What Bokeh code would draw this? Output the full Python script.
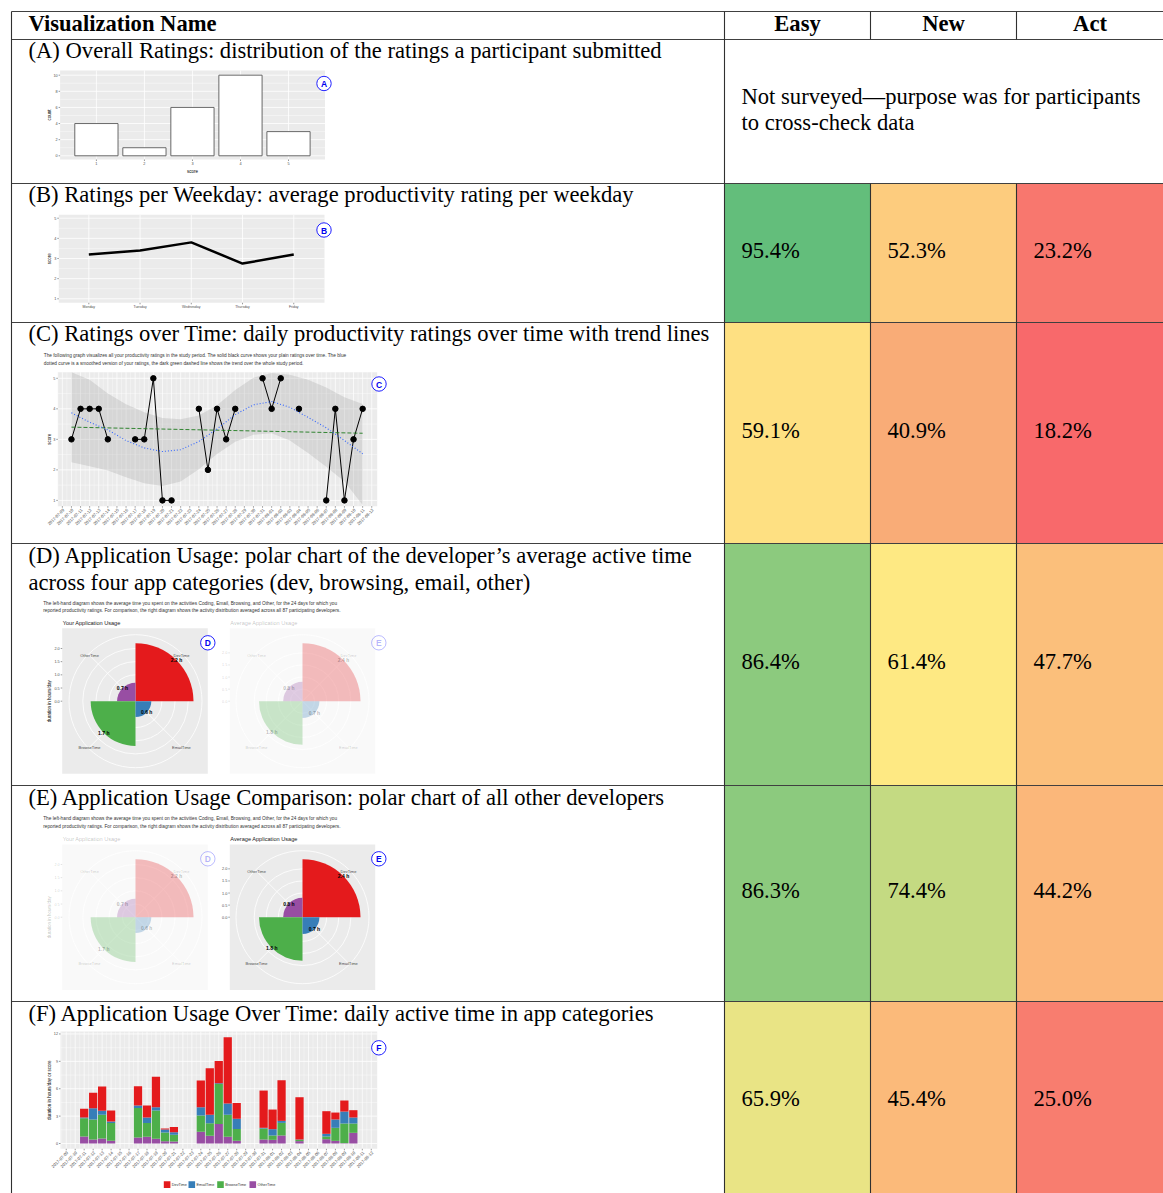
import math
from datetime import date
import numpy as np
from bokeh.plotting import figure
from bokeh.models import Range1d
from bokeh.embed import file_html
from bokeh.resources import INLINE
from bokeh.core.properties import value

# ---------------------------------------------------------------- data
col_names = ["Easy", "New", "Act"]
header_title = "Visualization Name"
row_titles = [
    ["(A) Overall Ratings: distribution of the ratings a participant submitted"],
    ["(B) Ratings per Weekday: average productivity rating per weekday"],
    ["(C) Ratings over Time: daily productivity ratings over time with trend lines"],
    ["(D) Application Usage: polar chart of the developer\u2019s average active time",
     "across four app categories (dev, browsing, email, other)"],
    ["(E) Application Usage Comparison: polar chart of all other developers"],
    ["(F) Application Usage Over Time: daily active time in app categories"],
]
not_surveyed = ["Not surveyed\u2014purpose was for participants", "to cross-check data"]

easy_pct = [95.4, 59.1, 86.4, 86.3, 65.9]
new_pct = [52.3, 40.9, 61.4, 74.4, 45.4]
act_pct = [23.2, 18.2, 47.7, 44.2, 25.0]
easy_colors = ["#63BE7B", "#FEE082", "#8CCA7E", "#8CCA7E", "#E9E485"]
new_colors = ["#FDCC7E", "#F9AC77", "#FEE983", "#C4DA82", "#FBBA7A"]
act_colors = ["#F8776E", "#F8696B", "#FBBF7B", "#FBB77A", "#F87D6F"]

A_scores = [1, 2, 3, 4, 5]
A_counts = [4, 1, 6, 10, 3]
A_yticks = [0, 2, 4, 6, 8, 10]

B_weekdays = ["Monday", "Tuesday", "Wednesday", "Thursday", "Friday"]
B_avg = [3.2, 3.4, 3.8, 2.75, 3.2]
B_yticks = [1, 2, 3, 4, 5]

date_labels = [
    "2017-07-09", "2017-07-10", "2017-07-11", "2017-07-12", "2017-07-13", "2017-07-14",
    "2017-07-15", "2017-07-16", "2017-07-17", "2017-07-18", "2017-07-19", "2017-07-20",
    "2017-07-21", "2017-07-22", "2017-07-23", "2017-07-24", "2017-07-25", "2017-07-26",
    "2017-07-27", "2017-07-28", "2017-07-29", "2017-07-30", "2017-07-31", "2017-08-01",
    "2017-08-02", "2017-08-03", "2017-08-04", "2017-08-05", "2017-08-06", "2017-08-07",
    "2017-08-08", "2017-08-09", "2017-08-10", "2017-08-11", "2017-08-12",
]
C_description = [
    "The following graph visualizes all your productivity ratings in the study period. The solid black curve shows your plain ratings over time. The blue",
    "dotted curve is a smoothed version of your ratings, the dark green dashed line shows the trend over the whole study period.",
]
C_dates = ["2017-07-10", "2017-07-11", "2017-07-12", "2017-07-13", "2017-07-14",
           "2017-07-17", "2017-07-18", "2017-07-19", "2017-07-20", "2017-07-21",
           "2017-07-24", "2017-07-25", "2017-07-26", "2017-07-27", "2017-07-28",
           "2017-07-31", "2017-08-01", "2017-08-02", "2017-08-04",
           "2017-08-07", "2017-08-08", "2017-08-09", "2017-08-10", "2017-08-11"]
C_ratings = [3, 4, 4, 4, 3, 3, 3, 5, 1, 1, 4, 2, 4, 3, 4, 5, 4, 5, 4, 1, 4, 1, 3, 4]
C_smooth_dates = ["2017-07-10", "2017-07-12", "2017-07-14", "2017-07-16", "2017-07-18",
                  "2017-07-20", "2017-07-22", "2017-07-24", "2017-07-26", "2017-07-28",
                  "2017-07-30", "2017-08-01", "2017-08-03", "2017-08-05", "2017-08-07",
                  "2017-08-09", "2017-08-11"]
C_smooth = [3.87, 3.56, 3.31, 2.96, 2.72, 2.60, 2.66, 2.93, 3.34, 3.81, 4.13, 4.24, 4.05, 3.72, 3.38, 2.96, 2.53]
C_smooth_hi = [5.45, 4.95, 4.50, 4.15, 3.89, 3.70, 3.66, 3.78, 4.12, 4.62, 5.02, 5.17, 5.12, 4.95, 4.70, 4.38, 4.16]
C_smooth_lo = [2.25, 2.12, 1.98, 1.76, 1.56, 1.47, 1.62, 2.02, 2.52, 2.92, 3.15, 3.20, 2.96, 2.55, 2.10, 1.62, 0.85]
C_trend_dates = ["2017-07-10", "2017-08-11"]
C_trend = [3.4, 3.2]

app_categories = ["DevTime", "OtherTime", "BrowseTime", "EmailTime"]
app_colors = ["#E41A1C", "#984EA3", "#4DAF4A", "#377EB8"]
your_hours = [2.2, 0.7, 1.7, 0.6]
avg_hours = [2.4, 0.8, 1.8, 0.7]
polar_rticks = [0.0, 0.5, 1.0, 1.5, 2.0]
polar_titles = ["Your Application Usage", "Average Application Usage"]
D_description = [
    "The left-hand diagram shows the average time you spent on the activities Coding, Email, Browsing, and Other, for the 24 days for which you",
    "reported productivity ratings. For comparison, the right diagram shows the activity distribution averaged across all 87 participating developers.",
]

F_dates = ["2017-07-11", "2017-07-12", "2017-07-13", "2017-07-14",
           "2017-07-17", "2017-07-18", "2017-07-19", "2017-07-20", "2017-07-21",
           "2017-07-24", "2017-07-25", "2017-07-26", "2017-07-27", "2017-07-28",
           "2017-07-31", "2017-08-01", "2017-08-02", "2017-08-04",
           "2017-08-07", "2017-08-08", "2017-08-09", "2017-08-10"]
F_other = [0.77, 0.44, 0.55, 0.29, 0.66, 0.73, 0.51, 0.26, 0.22, 1.28, 0.84, 2.15, 0.73, 0.29, 0.44, 0.40, 0.88, 0.26, 0.47, 0.29, 0.04, 1.17]
F_browse = [2.00, 2.19, 2.59, 1.97, 3.24, 1.53, 3.10, 0.94, 0.73, 1.79, 1.39, 4.38, 2.41, 1.31, 1.20, 0.48, 1.38, 0.14, 0.30, 1.43, 2.15, 1.02]
F_email = [0.08, 1.24, 0.44, 0.15, 0.26, 0.59, 0.37, 0.33, 0.29, 0.91, 0.91, 0.07, 1.24, 1.10, 0.08, 0.69, 0.22, 0.04, 0.29, 0.91, 1.31, 0.66]
F_dev = [0.95, 1.68, 2.66, 1.20, 2.12, 1.31, 3.32, 0.11, 0.58, 2.92, 5.11, 2.45, 7.26, 1.75, 4.08, 2.15, 4.45, 4.63, 2.48, 0.76, 1.21, 0.80]
F_yticks = [0, 3, 6, 9, 12]
F_legend = ["DevTime", "EmailTime", "BrowseTime", "OtherTime"]
F_legend_colors = ["#E41A1C", "#377EB8", "#4DAF4A", "#984EA3"]

# ---------------------------------------------------------------- canvas
SERIF = value("Liberation Serif")
SANS = value("Liberation Sans")
TICK_C = "#4D4D4D"
PANEL_C = "#EBEBEB"
BIG = 22.6

p = figure(width=1163, height=1193, x_range=Range1d(0, 1163), y_range=Range1d(1193, 0),
           output_backend="svg", toolbar_location=None, min_border=0)
p.xaxis.visible = False
p.yaxis.visible = False
p.xgrid.visible = False
p.ygrid.visible = False
p.outline_line_color = None
p.background_fill_color = "white"
p.border_fill_color = "white"


def txt(x, y, s, size, font=SANS, color="black", align="left", baseline="middle",
        angle=0.0, style="normal", alpha=1.0):
    x = list(np.atleast_1d(np.asarray(x, float)))
    y = list(np.atleast_1d(np.asarray(y, float)))
    s = [s] if isinstance(s, str) else list(s)
    n = len(s)
    if len(x) == 1:
        x = x * n
    if len(y) == 1:
        y = y * n
    p.text(x=x, y=y, text=s, text_font=font, text_font_size=f"{size}px",
           text_color=color, text_align=align, text_baseline=baseline, angle=angle,
           text_font_style=style, text_alpha=alpha)


def day_index(s):
    return (date.fromisoformat(s) - date(2017, 7, 9)).days


class Panel:
    def __init__(self, px0, px1, py0, py1, xlim, ylim):
        self.px0, self.px1, self.py0, self.py1 = px0, px1, py0, py1
        self.xlim, self.ylim = xlim, ylim

    def X(self, v):
        v = np.asarray(v, float)
        return self.px0 + (v - self.xlim[0]) / (self.xlim[1] - self.xlim[0]) * (self.px1 - self.px0)

    def Y(self, v):
        v = np.asarray(v, float)
        return self.py1 - (v - self.ylim[0]) / (self.ylim[1] - self.ylim[0]) * (self.py1 - self.py0)

    def bg(self, color=PANEL_C, alpha=1.0):
        p.quad(left=[self.px0], right=[self.px1], top=[self.py0], bottom=[self.py1],
               fill_color=color, fill_alpha=alpha, line_color=None)

    def hgrid(self, vals, width):
        ys = self.Y(vals)
        p.segment(x0=[self.px0] * len(ys), x1=[self.px1] * len(ys), y0=ys, y1=ys,
                  line_color="white", line_width=width)

    def vgrid(self, vals, width):
        xs = self.X(vals)
        p.segment(x0=xs, x1=xs, y0=[self.py0] * len(xs), y1=[self.py1] * len(xs),
                  line_color="white", line_width=width)

    def yticks(self, vals, labels, size=3.8):
        ys = self.Y(vals)
        p.segment(x0=[self.px0 - 1.5] * len(ys), x1=[self.px0] * len(ys), y0=ys, y1=ys,
                  line_color="#333333", line_width=0.5)
        txt(self.px0 - 2.5, ys, labels, size, color=TICK_C, align="right")

    def xticks(self, vals, labels, size=3.8, rotate=False):
        xs = self.X(vals)
        p.segment(x0=xs, x1=xs, y0=[self.py1] * len(xs), y1=[self.py1 + 1.5] * len(xs),
                  line_color="#333333", line_width=0.5)
        if rotate:
            txt(xs + 1.2, self.py1 + 3.2, labels, size, color=TICK_C, align="right",
                baseline="middle", angle=math.pi / 4)
        else:
            txt(xs, self.py1 + 2.5, labels, size, color=TICK_C, align="center", baseline="top")


def badge(x, y, letter, alpha=1.0):
    p.circle(x=[x], y=[y], radius=7.2, fill_color="white", fill_alpha=alpha,
             line_color="#2020FF", line_alpha=alpha, line_width=1.0)
    txt(x, y + 0.5, letter, 8.5, color="#0000EE", align="center", style="bold", alpha=alpha)


# ---------------------------------------------------------------- table
COL_X = [724, 870, 1016, 1163]
ROW_Y = [11, 39, 183, 322, 543, 785, 1001, 1193]
LEFT = 11

for r in range(5):
    top, bot = ROW_Y[r + 2], ROW_Y[r + 3]
    cols = [easy_colors[r], new_colors[r], act_colors[r]]
    p.quad(left=COL_X[:3], right=COL_X[1:], top=[top] * 3, bottom=[bot] * 3,
           fill_color=cols, line_color=None)

hy = ROW_Y[:-1]
p.segment(x0=[LEFT] * len(hy), x1=[1163] * len(hy), y0=hy, y1=hy, line_color="#404040", line_width=1.1)
p.segment(x0=[LEFT, 724, 870, 1016, 870, 1016], x1=[LEFT, 724, 870, 1016, 870, 1016],
          y0=[11, 11, 11, 11, 183, 183], y1=[1193, 1193, 39, 39, 1193, 1193],
          line_color="#303030", line_width=1.1)

# header
txt(28, 23, header_title, BIG, font=SERIF, style="bold")
txt([797, 943, 1089.5], 23, col_names, BIG, font=SERIF, style="bold", align="center")

# row titles (text centres)
title_mid = [50, 193.8, 332.8, 554.8, 796.8, 1012.8]
for r, lines in enumerate(row_titles):
    for k, line in enumerate(lines):
        txt(28, title_mid[r] + 27 * k, line, BIG, font=SERIF)

# not surveyed
txt(741, [95.5, 122], not_surveyed, BIG, font=SERIF)

# percentages
pct_mid = [249.5, 429.5, 661, 890, 1098]
for r in range(5):
    vals = [easy_pct[r], new_pct[r], act_pct[r]]
    txt([741, 887, 1033], pct_mid[r], [f"{v:.1f}%" for v in vals], BIG, font=SERIF)

# ---------------------------------------------------------------- (A) bar chart
pa = Panel(59.6, 324.5, 70, 159, (0.244, 5.76), (-0.46, 10.58))
pa.bg()
pa.hgrid([1, 3, 5, 7, 9], 0.4)
pa.hgrid(A_yticks, 0.8)
pa.vgrid(A_scores, 0.8)
sc = np.array(A_scores, float)
p.quad(left=pa.X(sc - 0.45), right=pa.X(sc + 0.45), bottom=pa.Y(np.zeros(5)), top=pa.Y(A_counts),
       fill_color="white", line_color="#595959", line_width=0.9)
pa.yticks(A_yticks, [str(v) for v in A_yticks], 3.8)
pa.xticks(A_scores, [str(v) for v in A_scores], 3.8)
txt((pa.px0 + pa.px1) / 2, 170.5, "score", 4.5, align="center")
txt(48.5, (pa.py0 + pa.py1) / 2, "count", 4.5, align="center", angle=math.pi / 2)
badge(323.5, 83, "A")

# ---------------------------------------------------------------- (B) line chart
pb = Panel(58.3, 324, 214.3, 302.3, (0.414, 5.6), (0.8, 5.17))
pb.bg()
pb.hgrid([1.5, 2.5, 3.5, 4.5], 0.4)
pb.hgrid(B_yticks, 0.8)
bx = np.arange(1, 6)
pb.vgrid(bx, 0.8)
p.line(x=pb.X(bx), y=pb.Y(B_avg), line_color="black", line_width=2.5)
pb.yticks(B_yticks, [str(v) for v in B_yticks], 3.8)
pb.xticks(bx, B_weekdays, 3.5)
txt(48.5, (pb.py0 + pb.py1) / 2, "score", 4.5, align="center", angle=math.pi / 2)
badge(323.5, 229.5, "B")

# ---------------------------------------------------------------- (C) ratings over time
txt(43.3, [355, 362.7], C_description, 4.75, color="#333333")
pc = Panel(57.3, 376.7, 371.7, 505.7, (-0.5, 34.6), (0.81, 5.2))
pc.bg()
all_days = np.arange(len(date_labels))
pc.vgrid(all_days - 0.5, 0.35)
pc.hgrid([1.5, 2.5, 3.5, 4.5], 0.4)
pc.hgrid([1, 2, 3, 4, 5], 0.8)
pc.vgrid(all_days, 0.7)
sx = np.array([day_index(d) for d in C_smooth_dates], float)
lo = np.clip(C_smooth_lo, pc.ylim[0], pc.ylim[1])
hi = np.clip(C_smooth_hi, pc.ylim[0], pc.ylim[1])
p.varea(x=pc.X(sx), y1=pc.Y(lo), y2=pc.Y(hi), fill_color="#999999", fill_alpha=0.25)
full = np.full(len(date_labels), np.nan)
for d, v in zip(C_dates, C_ratings):
    full[day_index(d)] = v
p.line(x=pc.X(all_days), y=pc.Y(full), line_color="black", line_width=1.0)
cx_days = np.array([day_index(d) for d in C_dates], float)
p.scatter(x=pc.X(cx_days), y=pc.Y(C_ratings), size=5.5, fill_color="black", line_color="black")
tx = np.array([day_index(d) for d in C_trend_dates], float)
p.line(x=pc.X(tx), y=pc.Y(C_trend), line_color="#1E7B1E", line_width=0.9, line_dash="4 2")
p.line(x=pc.X(sx), y=pc.Y(C_smooth), line_color="#3366FF", line_width=1.1, line_dash="1 2")
pc.yticks([1, 2, 3, 4, 5], ["1", "2", "3", "4", "5"], 3.8)
pc.xticks(all_days, date_labels, 4.2, rotate=True)
txt(48.5, (pc.py0 + pc.py1) / 2, "score", 4.5, align="center", angle=math.pi / 2)
badge(378.5, 383.5, "C")


# ---------------------------------------------------------------- (D)/(E) polar charts
def draw_polar(cx, cy, rect, hours, faded, title, show_ytitle):
    a = 0.28 if faded else 1.0
    x0, x1, y0, y1 = rect
    p.quad(left=[x0], right=[x1], top=[y0], bottom=[y1], fill_color=PANEL_C,
           fill_alpha=0.3 if faded else 1.0, line_color=None)
    scale = 58.0 / max(hours)
    outer = 66.5
    rings = [t * scale for t in polar_rticks[1:]] + [outer]
    p.circle(x=[cx] * len(rings), y=[cy] * len(rings), radius=rings, fill_color=None,
             line_color="white", line_width=0.8)
    spoke = [math.pi / 4, 3 * math.pi / 4, 5 * math.pi / 4, 7 * math.pi / 4]
    p.segment(x0=[cx] * 4, y0=[cy] * 4, x1=[cx + outer * math.cos(t) for t in spoke],
              y1=[cy - outer * math.sin(t) for t in spoke], line_color="white", line_width=0.8)
    starts = [0.0, math.pi / 2, math.pi, 3 * math.pi / 2]
    p.wedge(x=[cx] * 4, y=[cy] * 4, radius=[h * scale for h in hours], start_angle=starts,
            end_angle=[s + math.pi / 2 for s in starts], fill_color=app_colors,
            fill_alpha=a, line_color=None)
    lx = [cx + 65 * math.cos(t) for t in spoke]
    ly = [cy - 65 * math.sin(t) for t in spoke]
    txt(lx, ly, app_categories, 4.0, color=TICK_C, align="center", alpha=a)
    vx = [cx + h * scale * math.cos(t) for h, t in zip(hours, spoke)]
    vy = [cy - h * scale * math.sin(t) for h, t in zip(hours, spoke)]
    txt(vx, vy, [f"{h:.1f} h" for h in hours], 5.0, color="black", align="center",
        style="bold", alpha=a)
    ty = [cy - t * scale for t in polar_rticks]
    p.segment(x0=[x0 - 1.5] * 5, x1=[x0] * 5, y0=ty, y1=ty, line_color="#333333",
              line_width=0.5, line_alpha=a)
    txt(x0 - 2.5, ty, [f"{t:.1f}" for t in polar_rticks], 3.8, color=TICK_C, align="right", alpha=a)
    if show_ytitle:
        txt(49.3, cy, "duration in hours/day", 4.5, align="center", angle=math.pi / 2, alpha=a)
    txt(x0 + 0.5, y0 - 5.5, title, 5.6, color="#1A1A1A", alpha=a)


# row D
txt(42.7, [602.7, 610], D_description, 4.75, color="#333333")
draw_polar(135, 700.7, (61.7, 207.3, 627.7, 773.3), your_hours, False, polar_titles[0], True)
draw_polar(302, 700.7, (229.3, 374.7, 627.7, 773.3), avg_hours, True, polar_titles[1], False)
badge(207.3, 642.3, "D")
badge(378.3, 642.3, "E", alpha=0.3)

# row E
txt(42.7, [818.3, 825.7], D_description, 4.75, color="#333333")
draw_polar(135, 916.7, (61.7, 207.3, 843.9, 989.5), your_hours, True, polar_titles[0], True)
draw_polar(302, 916.7, (229.3, 374.7, 843.9, 989.5), avg_hours, False, polar_titles[1], False)
badge(207.3, 858.3, "D", alpha=0.3)
badge(378.3, 858.3, "E")

# ---------------------------------------------------------------- (F) stacked bars
pf = Panel(60, 376.7, 1031, 1148.3, (-0.64, 34.66), (-0.58, 12.27))
pf.bg()
pf.vgrid(all_days - 0.5, 0.35)
pf.hgrid([1.5, 4.5, 7.5, 10.5], 0.4)
pf.hgrid(F_yticks, 0.8)
pf.vgrid(all_days, 0.7)
fx = np.array([day_index(d) for d in F_dates], float)
layers = [F_other, F_browse, F_email, F_dev]
layer_colors = ["#984EA3", "#4DAF4A", "#377EB8", "#E41A1C"]
base = np.zeros(len(F_dates))
for vals, col in zip(layers, layer_colors):
    top = base + np.array(vals)
    p.quad(left=pf.X(fx - 0.46), right=pf.X(fx + 0.46), bottom=pf.Y(base), top=pf.Y(top),
           fill_color=col, line_color=None)
    base = top
pf.yticks(F_yticks, [str(v) for v in F_yticks], 3.8)
pf.xticks(all_days, date_labels, 4.2, rotate=True)
txt(49.3, (pf.py0 + pf.py1) / 2, "duration in hours/day or score", 4.5, align="center",
    angle=math.pi / 2)
badge(378.3, 1047.3, "F")
leg_x = [163.3, 188.0, 216.7, 249.0]
p.quad(left=leg_x, right=[x + 6.6 for x in leg_x], top=[1180.8] * 4, bottom=[1187.4] * 4,
       fill_color=F_legend_colors, line_color=None)
txt([x + 8 for x in leg_x], 1184.1, F_legend, 3.8, color="#333333")

open("out.html", "w").write(file_html(p, INLINE))
